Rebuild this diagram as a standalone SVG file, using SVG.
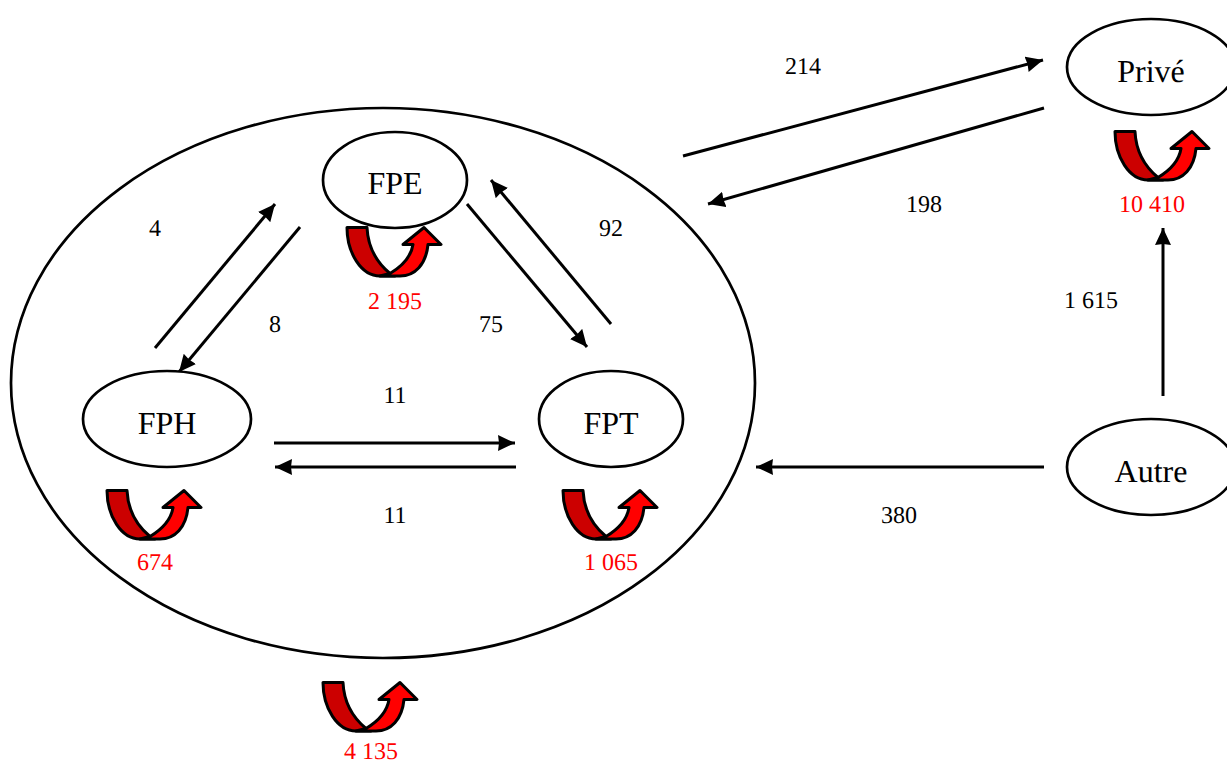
<svg xmlns="http://www.w3.org/2000/svg" width="1227" height="760" viewBox="0 0 1227 760">
<style>
text{font-family:"Liberation Serif","Times New Roman",serif;text-anchor:middle;text-rendering:geometricPrecision}
.n{font-size:32px;fill:#000}
.l{font-size:24px;fill:#000}
.r{font-size:24px;fill:#f00}
ellipse{fill:#fff;stroke:#000;stroke-width:2.700}
.c line{stroke:#000;stroke-width:3;marker-end:url(#a)}
.d{fill:#c00;stroke:#000;stroke-width:3;stroke-linejoin:round}
.b{fill:#f00;stroke:#000;stroke-width:3;stroke-linejoin:round}
</style>
<defs>
<marker id="a" markerUnits="userSpaceOnUse" markerWidth="20" markerHeight="18" refX="17" refY="8" orient="auto"><path d="M0,0L17,8L0,16L1,8Z" fill="#000"/></marker>
<g id="u">
<path class="d" d="M0,0H20C21,22 31,36 43,46L48,48.500H33C14,48.500 0,25 0,0Z"/>
<path class="b" d="M43,46C53,40 64,30 66,17L56,17L77,0L94,17L81,17C79,37 68,48.500 53,48.500H33Z"/>
</g>
</defs>
<g id="domain"><ellipse cx="383" cy="383" rx="372" ry="275"/></g>
<g id="connectors" class="c">
<line x1="683" y1="156" x2="1043" y2="60"/>
<line x1="1044" y1="108" x2="708" y2="204"/>
<line x1="155" y1="348" x2="275" y2="204"/>
<line x1="300" y1="227" x2="179" y2="372"/>
<line x1="467" y1="204" x2="587" y2="347"/>
<line x1="611" y1="324" x2="491" y2="180"/>
<line x1="274" y1="443" x2="515" y2="443"/>
<line x1="516" y1="467" x2="275" y2="467"/>
<line x1="1044" y1="467" x2="756" y2="467"/>
<line x1="1163" y1="396" x2="1163" y2="228"/>
</g>
<g id="FPE"><ellipse cx="395" cy="180" rx="72" ry="48"/><text class="n" x="395" y="194">FPE</text><use href="#u" x="347" y="227.500"/><text class="r" x="395" y="309">2 195</text></g>
<g id="FPH"><ellipse cx="167" cy="419" rx="84" ry="48"/><text class="n" x="167" y="434">FPH</text><use href="#u" x="107" y="490.500"/><text class="r" x="155" y="570">674</text></g>
<g id="FPT"><ellipse cx="611" cy="419" rx="72" ry="48"/><text class="n" x="611" y="434">FPT</text><use href="#u" x="563" y="490.500"/><text class="r" x="611" y="570">1 065</text></g>
<g id="Prive"><ellipse cx="1151" cy="67" rx="84" ry="48"/><text class="n" x="1151" y="82">Privé</text><use href="#u" x="1115" y="131.500"/><text class="r" x="1152" y="212">10 410</text></g>
<g id="Autre"><ellipse cx="1151" cy="467" rx="84" ry="48"/><text class="n" x="1151" y="482">Autre</text></g>
<g id="total"><use href="#u" x="323" y="682.500"/><text class="r" x="371" y="759">4 135</text></g>
<g id="labels">
<text class="l" x="803" y="74">214</text>
<text class="l" x="924" y="212">198</text>
<text class="l" x="155" y="236">4</text>
<text class="l" x="275" y="332">8</text>
<text class="l" x="611" y="236">92</text>
<text class="l" x="491" y="332">75</text>
<text class="l" x="395" y="403">11</text>
<text class="l" x="395" y="523">11</text>
<text class="l" x="899" y="523">380</text>
<text class="l" x="1091" y="308">1 615</text>
</g>
</svg>
